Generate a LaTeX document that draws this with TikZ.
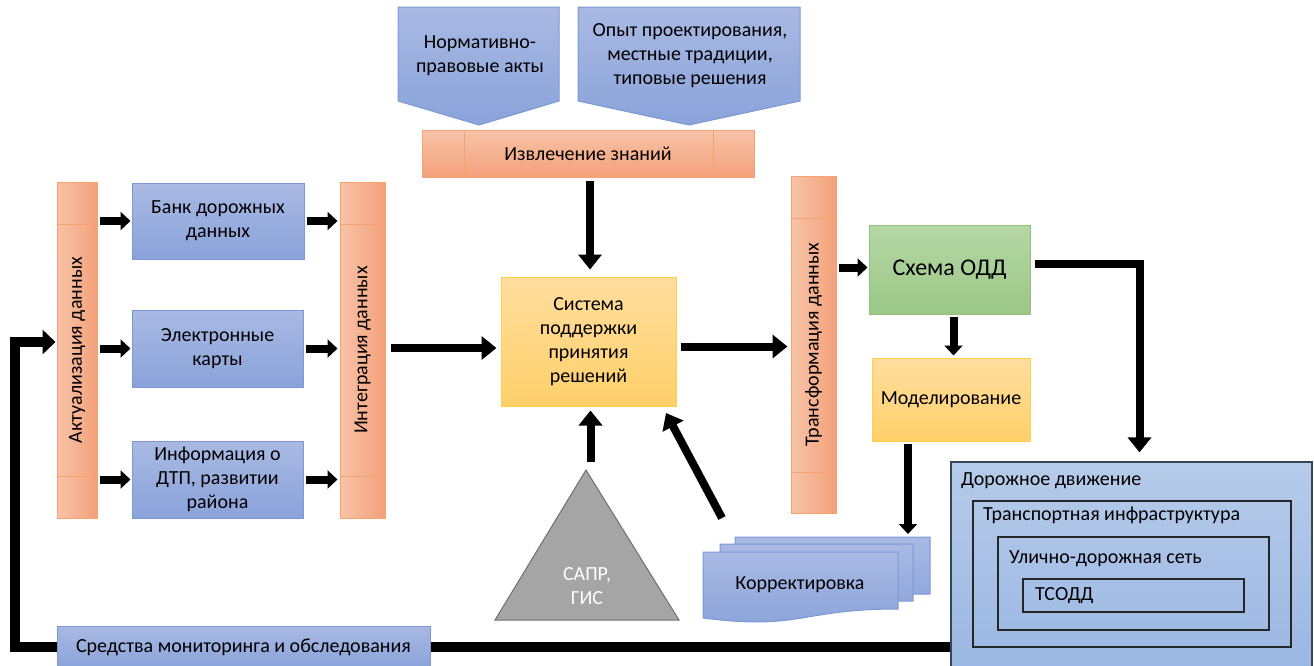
\documentclass[tikz,border=0pt]{standalone}
\usepackage{fontspec}
\setmainfont{Carlito}
\usetikzlibrary{arrows.meta,calc}
\definecolor{blueT}{HTML}{A9B9E3}
\definecolor{blueB}{HTML}{8AA3DA}
\definecolor{bluebd}{HTML}{7C98D6}
\definecolor{orL}{HTML}{F8C3A8}
\definecolor{orR}{HTML}{F3A17A}
\definecolor{orbd}{HTML}{F5A270}
\definecolor{yeT}{HTML}{FFDD9E}
\definecolor{yeB}{HTML}{FFD06A}
\definecolor{yebd}{HTML}{FFD04A}
\definecolor{grT}{HTML}{B5D7A5}
\definecolor{grB}{HTML}{9BC787}
\definecolor{grbd}{HTML}{90C47A}
\definecolor{triF}{HTML}{A5A5A5}
\definecolor{triD}{HTML}{6F6F6F}
\definecolor{ddT}{HTML}{B7CBEA}
\definecolor{ddB}{HTML}{97B5E2}
\definecolor{ddbd}{HTML}{3A4558}
\newcommand{\fsz}{\fontsize{20}{24}\selectfont}
\tikzset{
  txt/.style={font=\fsz, align=center, inner sep=0pt, text=black},
  bluebox/.style={txt, draw=bluebd, line width=1pt, top color=blueT, bottom color=blueB},
  bluepath/.style={draw=bluebd, line width=1pt, top color=blueT, bottom color=blueB},
  orbar/.style={draw=orbd, line width=1pt, left color=orL, right color=orR, inner sep=0pt},
  orhbar/.style={txt, draw=orbd, line width=1pt, top color=orL, bottom color=orR},
  orline/.style={draw=orbd, line width=1pt},
  yebox/.style={txt, draw=yebd, line width=1pt, top color=yeT, bottom color=yeB},
  grbox/.style={txt, draw=grbd, line width=1pt, top color=grT, bottom color=grB},
  ddbox/.style={draw=ddbd, line width=1.3pt, top color=ddT, bottom color=ddB, inner sep=0pt},
  inbox/.style={draw=black!85, line width=1.3pt, inner sep=0pt},
  ddlabel/.style={txt, anchor=west},
  arr/.style={line width=8pt, -{Triangle[width=18pt,length=10pt]}},
  arrbig/.style={line width=8pt, -{Triangle[width=23pt,length=15pt]}},
  arrfb/.style={line width=10pt, -{Triangle[width=24pt,length=13pt]}},
}
\begin{document}
\begin{tikzpicture}[x=1pt,y=-1pt]
\useasboundingbox (0,0) rectangle (1314,665);
\clip (0,0) rectangle (1314,665);

% top sources
\path[bluepath] (398,7) -- (559,7) -- (559,101) -- (479,125) -- (398,101) -- cycle;
\node[txt] (norm) at (480,56) {Нормативно-\\правовые акты};
\path[bluepath] (578,7) -- (800,7) -- (800,101) -- (689,125) -- (578,101) -- cycle;
\node[txt] (opyt) at (690,56) {Опыт проектирования,\\местные традиции,\\типовые решения};

% knowledge extraction
\node[orhbar, minimum width=332pt, minimum height=47pt] (izvl) at (588,153.5) {Извлечение знаний};
\draw[orline] (464,130) -- (464,177) (713,130) -- (713,177);

% left bars
\node[orbar, minimum width=40pt, minimum height=336pt] (akt) at (77,350) {};
\draw[orline] (akt.west |- 0,224) -- (akt.east |- 0,224) (akt.west |- 0,476) -- (akt.east |- 0,476);
\node[txt, rotate=90] (aktlab) at (akt.center) {Актуализация данных};

\node[bluebox, minimum width=172pt, minimum height=76pt] (bank) at (218,221) {Банк дорожных\\данных};
\node[bluebox, minimum width=171pt, minimum height=77pt] (elek) at (217.5,348.5) {Электронные\\карты};
\node[bluebox, minimum width=171pt, minimum height=77pt] (info) at (217.5,479.5) {Информация о\\ДТП, развитии\\района};

\node[orbar, minimum width=45pt, minimum height=336pt] (integr) at (362.5,350) {};
\draw[orline] (integr.west |- 0,224) -- (integr.east |- 0,224) (integr.west |- 0,476) -- (integr.east |- 0,476);
\node[txt, rotate=90] (integrlab) at (integr.center) {Интеграция данных};

% center
\node[yebox, minimum width=175pt, minimum height=129pt] (sppr) at (588.5,341.5) {Система\\поддержки\\принятия\\решений};

\node[orbar, minimum width=45pt, minimum height=337pt] (trans) at (813.5,344.5) {};
\draw[orline] (trans.west |- 0,218) -- (trans.east |- 0,218) (trans.west |- 0,472) -- (trans.east |- 0,472);
\node[txt, rotate=90] (translab) at (trans.center) {Трансформация данных};

\node[grbox, minimum width=161pt, minimum height=89pt, font=\fontsize{24}{29}\selectfont] (schema) at (949.5,269.5) {Схема ОДД};
\node[yebox, minimum width=158pt, minimum height=83pt] (model) at (951,399.5) {Моделирование};

% triangle
\path[fill=triF, draw=triD, line width=1pt] (586,470) -- (679,620) -- (495,620) -- cycle;
\coordinate (triapex) at (586,470);
\node[txt, text=white] (tri) at (587,586) {САПР,\\ГИС};

% correction documents
\path[bluepath] (735,537) -- (930,537) -- (930,594) .. controls (832.5,594) and (832.5,615.6) .. (735,603) -- cycle;
\path[bluepath] (720,544) -- (913,544) -- (913,601) .. controls (816.5,601) and (816.5,622.6) .. (720,610) -- cycle;
\path[bluepath] (703,552) -- (898,552) -- (898,609) .. controls (800.5,609) and (800.5,630.6) .. (703,618) -- cycle;
\coordinate (ktop) at (930,537);
\coordinate (kstart) at (722,518);
\coordinate (ktip) at (666,413);
\node[txt] (korr) at (800,585) {Корректировка};

% road traffic nested boxes
\node[ddbox, minimum width=361pt, minimum height=228pt] (dd) at (1131.5,576) {};
\node[inbox, minimum width=318pt, minimum height=146pt] (tinf) at (1132,574) {};
\node[inbox, minimum width=271pt, minimum height=93pt] (uds) at (1133.5,583.5) {};
\node[inbox, minimum width=221pt, minimum height=33pt] (tsodd) at (1133.5,595.5) {};
\node[ddlabel] (ddlab) at (961,481) {Дорожное движение};
\node[ddlabel] (tinflab) at (983,515) {Транспортная инфраструктура};
\node[ddlabel] (udslab) at (1009,559) {Улично-дорожная сеть};
\node[ddlabel] (tsoddlab) at (1035,596) {ТСОДД};

% feedback line
\coordinate (fbc) at (15,647);
\draw[arrfb, shorten >=1pt] (dd.west |- 0,647) -- (fbc) |- ([yshift=8pt]akt.west);
\node[bluebox, minimum width=373pt, minimum height=42pt] (sredstva) at (243.5,647) {Средства мониторинга и обследования};

% arrows
\draw[arr, shorten <=2pt, shorten >=1pt] (akt.east |- bank.west) -- (bank.west);
\draw[arr, shorten <=2pt, shorten >=1pt] (akt.east |- elek.west) -- (elek.west);
\draw[arr, shorten <=2pt, shorten >=1pt] (akt.east |- info.west) -- (info.west);
\draw[arr, shorten <=2pt, shorten >=2pt] (bank.east) -- (bank.east -| integr.west);
\draw[arr, shorten <=2pt, shorten >=2pt] (elek.east) -- (elek.east -| integr.west);
\draw[arr, shorten <=2pt, shorten >=2pt] (info.east) -- (info.east -| integr.west);
\draw[arrbig, shorten <=5pt, shorten >=4pt] ([yshift=2pt]integr.east) -- ([yshift=2pt]integr.east -| sppr.west);
\draw[arrbig, shorten <=4pt, shorten >=3pt] ([yshift=-2pt]trans.west -| sppr.east) -- ([yshift=-2pt]trans.west);
\draw[arr, shorten <=2pt, shorten >=1pt] ([yshift=2pt]schema.west -| trans.east) -- ([yshift=2pt]schema.west);
\draw[arrbig, shorten <=3pt, shorten >=7pt] ([xshift=2pt]izvl.south) -- ([xshift=2pt]izvl.south |- sppr.north);
\draw[arrbig, shorten <=8pt, shorten >=4pt] ([xshift=2pt]sppr.south |- triapex) -- ([xshift=2pt]sppr.south);
\draw[arr, shorten <=2pt, shorten >=2pt] ([xshift=4pt]schema.south) -- ([xshift=4pt]schema.south |- model.north);
\coordinate (ddin) at ([xshift=8pt]dd.north);
\draw[arrbig, shorten <=4pt, shorten >=9pt, line join=miter] ([yshift=6pt]schema.east) -| (ddin);
\coordinate (mk) at ([xshift=-43pt]model.south);
\draw[arr, shorten <=2pt, shorten >=3pt] (mk) -- (mk |- ktop);
\draw[arrbig] (kstart) -- (ktip);
\end{tikzpicture}
\end{document}
